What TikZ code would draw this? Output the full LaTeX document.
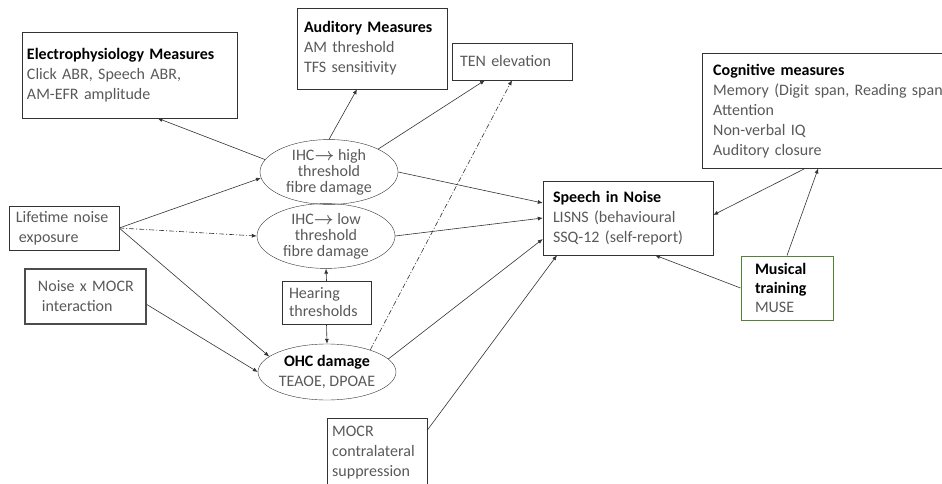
\documentclass[tikz,border=0pt]{standalone}
\usepackage{fontspec}
\setmainfont{Carlito}
\usetikzlibrary{arrows.meta,shapes.geometric}
\definecolor{txtgray}{gray}{0.35}
\definecolor{musgreen}{RGB}{84,130,53}
\tikzset{
  box/.style={draw=black!80, rectangle, align=left, text=txtgray, inner ysep=2pt},
  oval/.style={draw=black!80, ellipse, align=center, text=txtgray, inner sep=0pt,
    minimum width=138pt},
  arr/.style={-{Latex[length=5pt,width=4pt]}, draw=black!80, line width=0.6pt},
  dashdot/.style={arr, dash pattern=on 5pt off 2pt on 1pt off 2pt}
}
\newcommand{\hd}[1]{{\color{black}\bfseries #1}}
\newcommand{\ihcto}{IHC{\boldmath$\rightarrow$}}
\begin{document}
\begin{tikzpicture}[x=1pt, y=-1pt, font=\fontsize{16}{20}\selectfont]
 \useasboundingbox (0,0) rectangle (942,484);
 % measures along the top
 \node[box, text width=205pt, inner xsep=5pt, minimum height=86pt] (elec) at (129.5,75)
   {\hd{Electrophysiology Measures}\\Click ABR, Speech ABR,\\AM-EFR amplitude};
 \node[box, text width=136pt, inner xsep=7pt, minimum height=81pt] (aud) at (372,48.5)
   {\hd{Auditory Measures}\\AM threshold\\TFS sensitivity};
 \node[box, text width=104pt, inner xsep=8pt, minimum height=37pt] (ten) at (512,61.5)
   {TEN elevation};
 \node[box, anchor=north west, text width=250pt, inner xsep=11pt, minimum height=115pt] (cog) at (702,53)
   {\hd{Cognitive measures}\\Memory (Digit span, Reading span)\\Attention\\Non-verbal IQ\\Auditory closure};
 % exposures
 \node[box, text width=96pt, inner xsep=7pt, minimum height=44pt] (life) at (64,228)
   {Lifetime noise\\\hspace*{3pt}exposure};
 \node[box, draw=black!70, line width=1.6pt, text width=113pt, inner xsep=4pt, minimum height=55pt] (nmocr) at (85.5,296.5)
   {\hspace*{9pt}Noise x MOCR\\\hspace*{13pt}interaction};
 % cochlear damage
 \node[oval, minimum height=60pt, font=\fontsize{16}{16}\selectfont] (ihch) at (329,172)
   {\ihcto\ high\\threshold\\fibre damage};
 \node[oval, minimum height=60pt, font=\fontsize{16}{16}\selectfont] (ihcl) at (326,236)
   {\ihcto\ low\\threshold\\fibre damage};
 \node[box, text width=75pt, inner xsep=7pt, minimum height=43pt, font=\fontsize{16}{18}\selectfont] (hear) at (326.5,302.5)
   {Hearing\\thresholds};
 \node[oval, minimum height=56pt] (ohc) at (327,372)
   {\hd{OHC damage}\\TEAOE, DPOAE};
 \node[box, anchor=north west, text width=90pt, inner xsep=5pt, minimum height=68pt] (mocr) at (327,418)
   {MOCR\\contralateral\\suppression};
 % outcome
 \node[box, text width=150pt, inner xsep=10pt, minimum height=74pt] (sin) at (628,218)
   {\hd{Speech in Noise}\\LISNS (behavioural\\SSQ-12 (self-report)};
 \node[box, draw=musgreen, line width=1pt, text width=64pt, inner xsep=14pt, minimum height=64pt, font=\fontsize{16}{19}\selectfont] (mus) at (787,288)
   {\hd{Musical}\\\hd{training}\\MUSE};
 % connectors
 \draw[arr] (ihch.169) -- ([xshift=28pt]elec.south);
 \draw[arr] (ihch.north) -- ([xshift=-15pt]aud.south);
 \draw[arr] (ihch.25) -- ([xshift=-27pt]ten.south);
 \draw[arr] (ihch.east) -- ([yshift=15pt]sin.west);
 \draw[arr] (life.east) -- (ihch.185);
 \draw[dashdot] (life.east) -- (ihcl.west);
 \draw[arr] (life.east) -- (ohc.165);
 \draw[arr] ([yshift=-8pt]nmocr.east) -- (ohc.west);
 \draw[arr] (hear.north) -- (ihcl.south);
 \draw[arr] (hear.south) -- (ohc.north);
 \draw[dashdot] (ohc.27) -- (ten.south);
 \draw[arr] (ihcl.east) -- (sin.west);
 \draw[arr] (ohc.12) -- ([yshift=-21pt]sin.west);
 \draw[arr] ([yshift=-12pt]mocr.north east) -- ([xshift=-71pt]sin.south);
 \draw[arr] (mus.west) -- ([xshift=27pt]sin.south);
 \draw[arr] (mus.north) -- ([xshift=-20pt]cog.south);
 \draw[arr] ([xshift=-33pt]cog.south) -- ([yshift=3pt]sin.east);
\end{tikzpicture}
\end{document}
